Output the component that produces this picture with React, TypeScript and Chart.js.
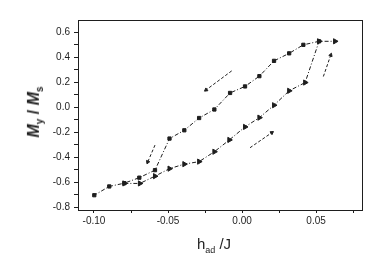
import React, { useEffect, useRef } from "react";
import { Chart, registerables } from "chart.js";

Chart.register(...registerables);

// Decreasing-field branch (squares)
const upperX = [0.052, 0.0414, 0.0318, 0.0216, 0.0117, 0.002, -0.0081, -0.0187, -0.029, -0.039, -0.049, -0.0588, -0.0694, -0.0795, -0.0897, -0.0998];
const upperY = [0.526, 0.498, 0.43, 0.37, 0.248, 0.166, 0.114, -0.018, -0.086, -0.184, -0.25, -0.502, -0.562, -0.606, -0.632, -0.702];

// Increasing-field branch (triangles)
const lowerX = [-0.0795, -0.069, -0.0588, -0.049, -0.039, -0.029, -0.0187, -0.0086, 0.002, 0.0117, 0.0216, 0.0318, 0.0426, 0.052, 0.0628];
const lowerY = [-0.608, -0.608, -0.55, -0.49, -0.454, -0.434, -0.355, -0.261, -0.157, -0.083, 0.016, 0.131, 0.197, 0.526, 0.526];

// Direction arrows: start / end
const arrowStartX = [-0.007, 0.0549, 0.0054, -0.0588];
const arrowStartY = [0.29, 0.245, -0.323, -0.302];
const arrowEndX = [-0.0243, 0.0599, 0.0201, -0.0637];
const arrowEndY = [0.138, 0.416, -0.203, -0.437];
const arrowRotation = [233, 19, 55, 203];

const xTicks = [-0.1, -0.075, -0.05, -0.025, 0, 0.025, 0.05, 0.075];
const xMajor = [-0.1, -0.05, 0, 0.05];
const yTicks = [-0.8, -0.7, -0.6, -0.5, -0.4, -0.3, -0.2, -0.1, 0, 0.1, 0.2, 0.3, 0.4, 0.5, 0.6];
const yMajor = [-0.8, -0.6, -0.4, -0.2, 0, 0.2, 0.4, 0.6];

const INK = "#1e1e1e";
const FONT = "'Liberation Sans', Arial, sans-serif";

const isIn = (v: number, arr: number[]) => arr.some((a) => Math.abs(a - v) < 1e-9);

export default function App() {
  const ref = useRef<HTMLCanvasElement | null>(null);

  useEffect(() => {
    if (!ref.current) return;
    const frame = {
      id: "frame",
      afterDraw(chart: any) {
        const { ctx, chartArea: a } = chart;
        ctx.save();
        ctx.strokeStyle = INK;
        ctx.lineWidth = 1;
        ctx.strokeRect(Math.round(a.left) + 0.5, Math.round(a.top) + 0.5, Math.round(a.right - a.left), Math.round(a.bottom - a.top));
        ctx.restore();
      },
    };
    const lineStyle = {
      borderColor: INK,
      backgroundColor: INK,
      borderWidth: 1,
      borderDash: [4, 2, 1, 2],
      showLine: true,
      tension: 0,
    };
    const arrows = arrowStartX.map((sx, i) => ({
      data: [
        { x: sx, y: arrowStartY[i] },
        { x: arrowEndX[i], y: arrowEndY[i] },
      ],
      borderColor: INK,
      backgroundColor: INK,
      borderWidth: 1,
      borderDash: [3, 2],
      showLine: true,
      pointStyle: "triangle",
      pointRadius: [0, 2],
      rotation: arrowRotation[i],
    }));
    const chart = new Chart(ref.current, {
      type: "scatter",
      data: {
        datasets: [
          {
            ...lineStyle,
            data: upperX.map((x, i) => ({ x, y: upperY[i] })),
            pointStyle: "rect",
            pointRadius: 2.3,
          },
          {
            ...lineStyle,
            data: lowerX.map((x, i) => ({ x, y: lowerY[i] })),
            pointStyle: "triangle",
            rotation: 90,
            pointRadius: 3,
          },
          ...arrows,
        ] as any,
      },
      options: {
        animation: false,
        responsive: false,
        devicePixelRatio: 1,
        layout: { padding: { left: 0, top: 20, right: 20, bottom: 0 } },
        plugins: { legend: { display: false }, tooltip: { enabled: false } },
        scales: {
          x: {
            type: "linear",
            min: -0.1108,
            max: 0.081,
            afterBuildTicks: (s: any) => {
              s.ticks = xTicks.map((v) => ({ value: v }));
            },
            afterFit: (s: any) => {
              s.height = 63;
            },
            border: { display: true, color: INK },
            grid: { drawOnChartArea: false, drawTicks: true, tickLength: 3, color: INK },
            ticks: {
              padding: 2,
              color: INK,
              font: { family: FONT, size: 10 },
              maxRotation: 0,
              autoSkip: false,
              callback: (v: any) => (isIn(Number(v), xMajor) ? Number(v).toFixed(2) : ""),
            },
          },
          y: {
            type: "linear",
            min: -0.82,
            max: 0.696,
            afterBuildTicks: (s: any) => {
              s.ticks = yTicks.map((v) => ({ value: v }));
            },
            afterFit: (s: any) => {
              s.width = 78;
            },
            border: { display: true, color: INK },
            grid: { drawOnChartArea: false, drawTicks: true, tickLength: 4, color: INK },
            ticks: {
              padding: 4,
              color: INK,
              font: { family: FONT, size: 10 },
              autoSkip: false,
              callback: (v: any) => (isIn(Number(v), yMajor) ? Number(v).toFixed(1) : ""),
            },
          },
        },
      },
      plugins: [frame],
    } as any);
    return () => chart.destroy();
  }, []);

  return (
    <div style={{ position: "absolute", left: 0, top: 0, width: 382, height: 273, background: "#fff", fontFamily: FONT, color: INK }}>
      <canvas ref={ref} width={382} height={273} style={{ display: "block", width: 382, height: 273 }} />
      <div
        style={{
          position: "absolute",
          left: 35,
          top: 112,
          transform: "translate(-50%, -50%) rotate(-90deg)",
          whiteSpace: "nowrap",
          fontSize: 16,
          fontWeight: "bold",
        }}
      >
        <i>M</i>
        <sub style={{ fontSize: 10 }}>y</sub> / <i>M</i>
        <sub style={{ fontSize: 10 }}>s</sub>
      </div>
      <div
        style={{
          position: "absolute",
          left: 214,
          top: 245,
          transform: "translate(-50%, -50%)",
          whiteSpace: "nowrap",
          fontSize: 15,
        }}
      >
        h<sub style={{ fontSize: 9 }}>ad</sub> /J
      </div>
    </div>
  );
}
